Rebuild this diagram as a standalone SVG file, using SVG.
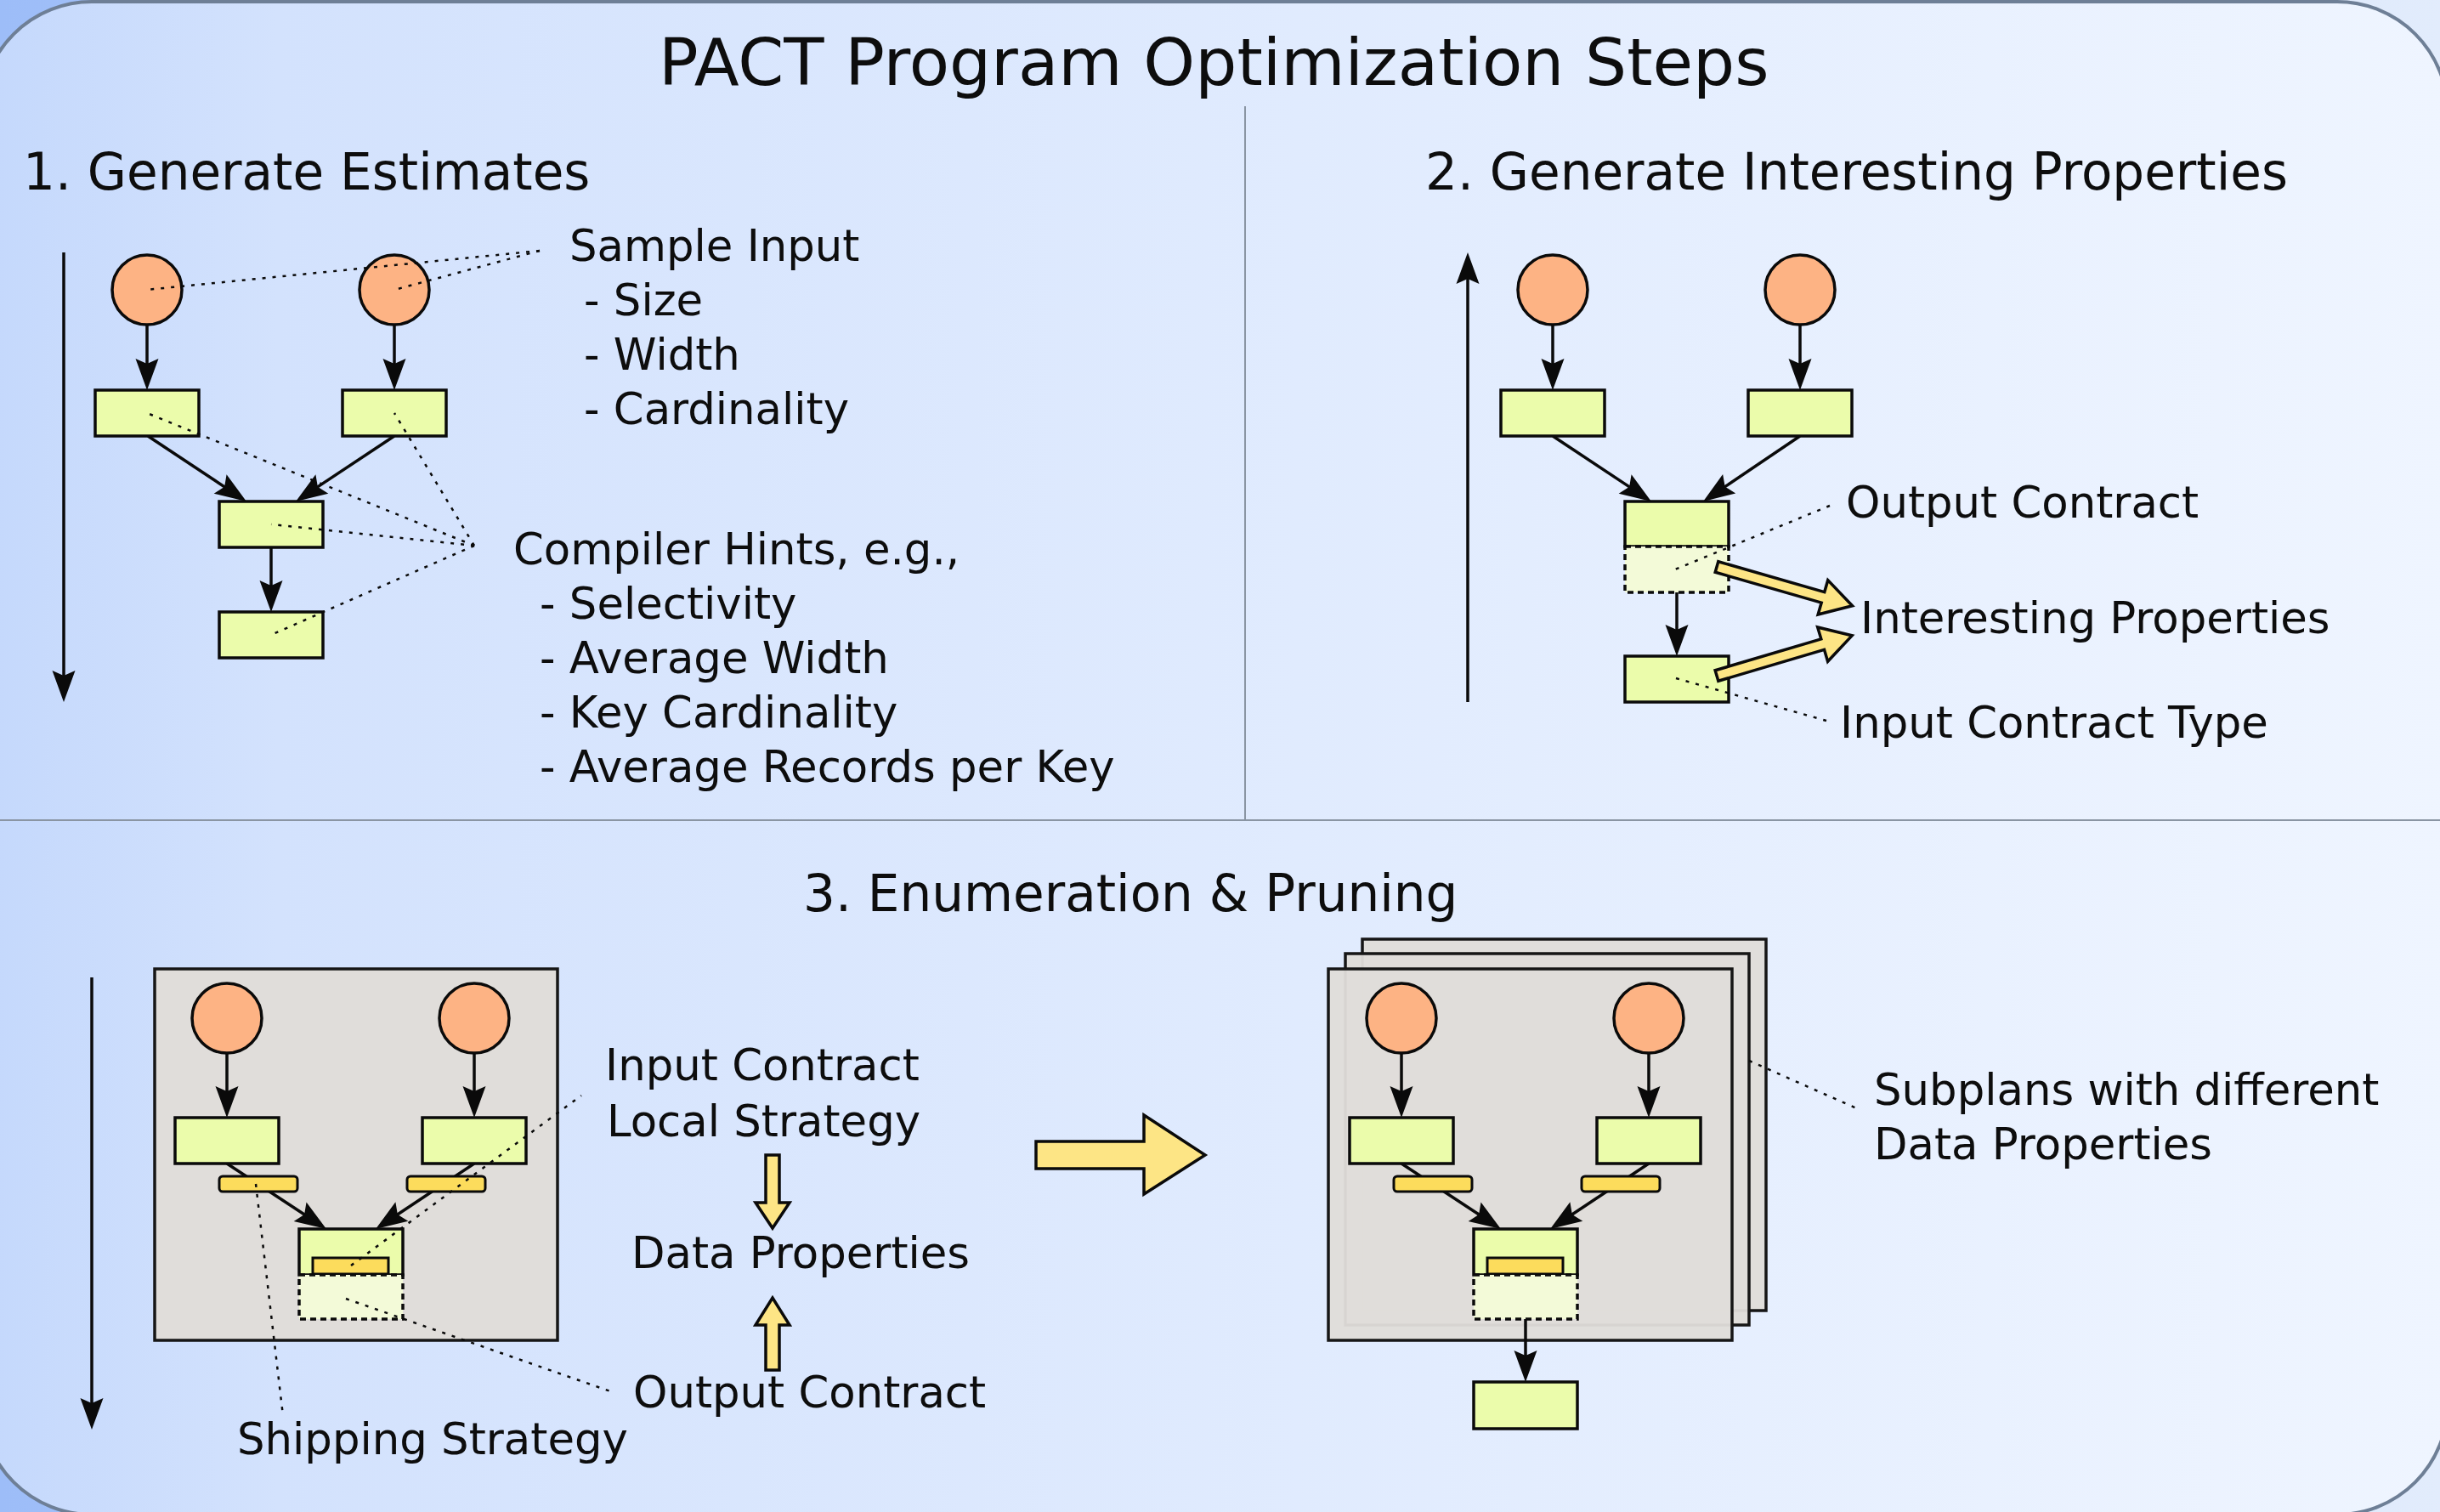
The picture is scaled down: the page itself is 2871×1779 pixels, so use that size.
<svg xmlns="http://www.w3.org/2000/svg" width="2871" height="1779" viewBox="0 0 2871 1779">
<defs>
<linearGradient id="bgOut" x1="0" y1="0" x2="1" y2="0">
<stop offset="0" stop-color="#9dbdf8"/><stop offset="1" stop-color="#e2ecfc"/>
</linearGradient>
<linearGradient id="bgIn" x1="0" y1="0" x2="1" y2="0">
<stop offset="0" stop-color="#c4d8fc"/><stop offset="0.12" stop-color="#d3e2fd"/><stop offset="1" stop-color="#eff5ff"/>
</linearGradient>
<marker id="ah" viewBox="-18 -15 40 30" refX="0" refY="0" markerWidth="40" markerHeight="30" markerUnits="userSpaceOnUse" orient="auto">
<path d="M20,0 L-17,-13.5 L-11,0 L-17,13.5 Z" fill="#0a0a0a"/>
</marker>
<style>
.t{font-family:"DejaVu Sans","Noto Sans",sans-serif;fill:#0d0d0d}
.title{font-size:77.4px}
.hdr{font-size:59.6px}
.body{font-size:51.3px}
.ell{fill:#fdb384;stroke:#0a0a0a;stroke-width:3.5}
.op{fill:#ebfcab;stroke:#0a0a0a;stroke-width:3.5}
.ghost{fill:#f3fad8;stroke:#0a0a0a;stroke-width:3.5;stroke-dasharray:7 5}
.bar{fill:#fcdc5c;stroke:#0a0a0a;stroke-width:3}
.box{fill:#e0ddda;stroke:#161616;stroke-width:3.5}
.sbox{fill:#e0ddda;fill-opacity:0.96;stroke:#161616;stroke-width:3.5}
.edge{stroke:#0a0a0a;stroke-width:3.5;fill:none;marker-end:url(#ah)}
.dot{stroke:#0a0a0a;stroke-width:2.5;stroke-dasharray:4 8;fill:none}
.blk{fill:#fde585;stroke:#0a0a0a;stroke-width:3.5;stroke-linejoin:miter}
.div{stroke:#8a95a3;stroke-width:2;fill:none}
</style>
</defs>

<rect x="0" y="0" width="2871" height="1779" fill="url(#bgOut)"/>
<rect x="-22" y="2" width="2902" height="1780" rx="130" ry="130" fill="url(#bgIn)" stroke="#6e7f96" stroke-width="4"/>

<g id="dividers">
<line class="div" x1="0" y1="965" x2="2871" y2="965"/>
<line class="div" x1="1465" y1="125" x2="1465" y2="965"/>
</g>

<g id="titles">
<text class="t title" x="775" y="100">PACT Program Optimization Steps</text>
<text class="t hdr" x="27" y="223">1. Generate Estimates</text>
<text class="t hdr" x="1677" y="223">2. Generate Interesting Properties</text>
<text class="t hdr" x="945" y="1072">3. Enumeration &amp; Pruning</text>
</g>

<!-- section 3 plan boxes -->
<g id="plan-box-left"><rect class="box" x="182" y="1140" width="474" height="437"/></g>
<g id="plan-box-back"><rect class="sbox" x="1603" y="1105" width="475" height="437"/></g>
<g id="plan-box-mid"><rect class="sbox" x="1583" y="1122" width="475" height="437"/></g>
<g id="plan-box-front"><rect class="sbox" x="1563" y="1140" width="475" height="437"/></g>

<g id="connectors">
<!-- axes -->
<line class="edge" x1="75" y1="297" x2="75" y2="806"/>
<line class="edge" x1="1727" y1="826" x2="1727" y2="317"/>
<line class="edge" x1="108" y1="1150" x2="108" y2="1662"/>
<!-- section 1 -->
<line class="edge" x1="173" y1="383" x2="173" y2="439"/>
<line class="edge" x1="464" y1="383" x2="464" y2="439"/>
<line class="edge" x1="174" y1="513" x2="273.3" y2="578.9"/>
<line class="edge" x1="464" y1="513" x2="364.7" y2="578.9"/>
<line class="edge" x1="319" y1="644" x2="319" y2="700"/>
<!-- section 2 -->
<line class="edge" x1="1827" y1="383" x2="1827" y2="439"/>
<line class="edge" x1="2118" y1="383" x2="2118" y2="439"/>
<line class="edge" x1="1827" y1="513" x2="1926.3" y2="578.9"/>
<line class="edge" x1="2118" y1="513" x2="2020.6" y2="578.8"/>
<line class="edge" x1="1973" y1="697" x2="1973" y2="752"/>
<!-- section 3 left -->
<line class="edge" x1="267" y1="1239" x2="267" y2="1295"/>
<line class="edge" x1="558" y1="1239" x2="558" y2="1295"/>
<line class="edge" x1="267" y1="1369" x2="367.3" y2="1435"/>
<line class="edge" x1="558" y1="1369" x2="458.7" y2="1435"/>
<!-- section 3 right -->
<line class="edge" x1="1649" y1="1239" x2="1649" y2="1295"/>
<line class="edge" x1="1940" y1="1239" x2="1940" y2="1295"/>
<line class="edge" x1="1649" y1="1369" x2="1749.3" y2="1435"/>
<line class="edge" x1="1940" y1="1369" x2="1840.7" y2="1435"/>
<line class="edge" x1="1795" y1="1552" x2="1795" y2="1606"/>
</g>

<!-- section 1 nodes -->
<g id="s1-src1"><circle class="ell" cx="173" cy="341" r="41"/></g>
<g id="s1-src2"><circle class="ell" cx="464" cy="341" r="41"/></g>
<g id="s1-op1"><rect class="op" x="112" y="459" width="122" height="54"/></g>
<g id="s1-op2"><rect class="op" x="403" y="459" width="122" height="54"/></g>
<g id="s1-op3"><rect class="op" x="258" y="590" width="122" height="54"/></g>
<g id="s1-op4"><rect class="op" x="258" y="720" width="122" height="54"/></g>

<!-- section 2 nodes -->
<g id="s2-src1"><circle class="ell" cx="1827" cy="341" r="41"/></g>
<g id="s2-src2"><circle class="ell" cx="2118" cy="341" r="41"/></g>
<g id="s2-op1"><rect class="op" x="1766" y="459" width="122" height="54"/></g>
<g id="s2-op2"><rect class="op" x="2057" y="459" width="122" height="54"/></g>
<g id="s2-op3"><rect class="op" x="1912" y="590" width="122" height="53"/><rect class="ghost" x="1912" y="643" width="122" height="54"/></g>
<g id="s2-op4"><rect class="op" x="1912" y="772" width="122" height="54"/></g>

<!-- section 3 left nodes -->
<g id="s3l-src1"><circle class="ell" cx="267" cy="1198" r="41"/></g>
<g id="s3l-src2"><circle class="ell" cx="558" cy="1198" r="41"/></g>
<g id="s3l-op1"><rect class="op" x="206" y="1315" width="122" height="54"/></g>
<g id="s3l-op2"><rect class="op" x="497" y="1315" width="122" height="54"/></g>
<g id="s3l-ship1"><rect class="bar" x="258" y="1384" width="92" height="18" rx="4"/></g>
<g id="s3l-ship2"><rect class="bar" x="479" y="1384" width="92" height="18" rx="4"/></g>
<g id="s3l-op3"><rect class="op" x="352" y="1446" width="122" height="54"/><rect class="bar" x="368" y="1480" width="89" height="19"/><rect class="ghost" x="352" y="1500" width="122" height="52"/></g>

<!-- section 3 right nodes -->
<g id="s3r-src1"><circle class="ell" cx="1649" cy="1198" r="41"/></g>
<g id="s3r-src2"><circle class="ell" cx="1940" cy="1198" r="41"/></g>
<g id="s3r-op1"><rect class="op" x="1588" y="1315" width="122" height="54"/></g>
<g id="s3r-op2"><rect class="op" x="1879" y="1315" width="122" height="54"/></g>
<g id="s3r-ship1"><rect class="bar" x="1640" y="1384" width="92" height="18" rx="4"/></g>
<g id="s3r-ship2"><rect class="bar" x="1861" y="1384" width="92" height="18" rx="4"/></g>
<g id="s3r-op3"><rect class="op" x="1734" y="1446" width="122" height="54"/><rect class="bar" x="1750" y="1480" width="89" height="19"/><rect class="ghost" x="1734" y="1500" width="122" height="52"/></g>
<g id="s3r-op4"><rect class="op" x="1734" y="1626" width="122" height="55"/></g>

<!-- block arrows -->
<g id="block-arrows">
<path class="blk" transform="translate(2020,667) rotate(16)" d="M0,-6.5 L130,-6.5 L130,-21 L166,0 L130,21 L130,6.5 L0,6.5 Z"/>
<path class="blk" transform="translate(2020,795) rotate(-16.5)" d="M0,-6.5 L130,-6.5 L130,-21 L166,0 L130,21 L130,6.5 L0,6.5 Z"/>
<path class="blk" d="M901,1359 L917,1359 L917,1415 L929,1415 L909,1445 L889,1415 L901,1415 Z"/>
<path class="blk" d="M901,1612 L917,1612 L917,1559 L929,1559 L909,1527 L889,1559 L901,1559 Z"/>
<path class="blk" d="M1219,1343 L1346,1343 L1346,1312 L1418,1359 L1346,1405 L1346,1375 L1219,1375 Z"/>
</g>

<g id="pointers">
<line class="dot" x1="635" y1="295" x2="172" y2="341"/>
<line class="dot" x1="635" y1="295" x2="464" y2="341"/>
<line class="dot" x1="558" y1="642" x2="173" y2="486"/>
<line class="dot" x1="558" y1="642" x2="464" y2="486"/>
<line class="dot" x1="558" y1="642" x2="319" y2="617"/>
<line class="dot" x1="558" y1="642" x2="319" y2="747"/>
<line class="dot" x1="2153" y1="595" x2="1971" y2="670"/>
<line class="dot" x1="1972" y1="798" x2="2149" y2="848"/>
<line class="dot" x1="301" y1="1393" x2="333" y2="1666"/>
<line class="dot" x1="413" y1="1489" x2="684" y2="1289"/>
<line class="dot" x1="407" y1="1528" x2="721" y2="1638"/>
<line class="dot" x1="2058" y1="1248" x2="2189" y2="1306"/>
</g>

<g id="labels">
<text class="t body" x="670" y="307">Sample Input</text>
<text class="t body" x="687" y="371">- Size</text>
<text class="t body" x="687" y="435">- Width</text>
<text class="t body" x="687" y="499">- Cardinality</text>
<text class="t body" x="604" y="664">Compiler Hints, e.g.,</text>
<text class="t body" x="635" y="728">- Selectivity</text>
<text class="t body" x="635" y="792">- Average Width</text>
<text class="t body" x="635" y="856">- Key Cardinality</text>
<text class="t body" x="635" y="920">- Average Records per Key</text>
<text class="t body" x="2172" y="609">Output Contract</text>
<text class="t body" x="2189" y="745">Interesting Properties</text>
<text class="t body" x="2165" y="868">Input Contract Type</text>
<text class="t body" x="712" y="1271">Input Contract</text>
<text class="t body" x="714" y="1337">Local Strategy</text>
<text class="t body" x="743" y="1492">Data Properties</text>
<text class="t body" x="745" y="1656">Output Contract</text>
<text class="t body" x="279" y="1711">Shipping Strategy</text>
<text class="t body" x="2205" y="1300">Subplans with different</text>
<text class="t body" x="2205" y="1364">Data Properties</text>
</g>
</svg>
